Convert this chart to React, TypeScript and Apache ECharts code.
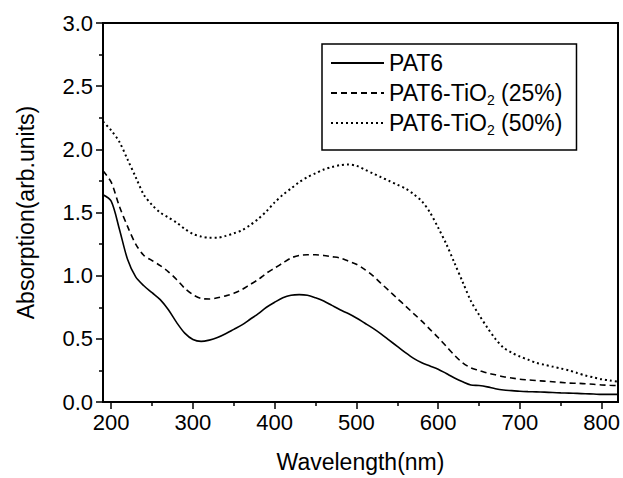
import React, { useEffect, useRef } from "react";
import * as echarts from "echarts";

const wavelengths = [
  190, 200, 210, 220, 230, 240, 250, 260, 270, 280, 290, 300, 310, 320, 330, 340,
  350, 360, 370, 380, 390, 400, 410, 420, 430, 440, 450, 460, 470, 480, 490, 500,
  510, 520, 530, 540, 550, 560, 570, 580, 590, 600, 610, 620, 630, 640, 650, 660,
  670, 680, 690, 700, 710, 720, 730, 740, 750, 760, 770, 780, 790, 800, 810, 820,
];

const pat6 = [
  1.64, 1.59, 1.37, 1.13, 0.99, 0.92, 0.865, 0.81, 0.73, 0.63, 0.545, 0.495, 0.48, 0.49, 0.51, 0.54,
  0.575, 0.61, 0.655, 0.7, 0.75, 0.79, 0.825, 0.845, 0.85, 0.845, 0.825, 0.8, 0.765, 0.73, 0.7, 0.665,
  0.625, 0.585, 0.54, 0.49, 0.44, 0.39, 0.345, 0.31, 0.285, 0.26, 0.225, 0.19, 0.16, 0.135, 0.13, 0.12,
  0.105, 0.095, 0.09, 0.085, 0.082, 0.08, 0.078, 0.075, 0.072, 0.07, 0.068, 0.065, 0.063, 0.06, 0.06, 0.06,
];

const pat6TiO2_25 = [
  1.83, 1.74, 1.55, 1.39, 1.25, 1.16, 1.12, 1.08, 1.03, 0.97, 0.9, 0.85, 0.82, 0.815, 0.825, 0.84,
  0.86, 0.89, 0.93, 0.97, 1.02, 1.06, 1.1, 1.14, 1.16, 1.165, 1.165, 1.16, 1.15, 1.14, 1.115, 1.09,
  1.05, 1.0, 0.94, 0.88, 0.82, 0.76, 0.7, 0.64, 0.575, 0.51, 0.44, 0.37, 0.31, 0.27, 0.25, 0.23,
  0.215, 0.2, 0.19, 0.18, 0.175, 0.17, 0.165, 0.16, 0.155, 0.15, 0.148, 0.145, 0.14, 0.135, 0.132, 0.13,
];

const pat6TiO2_50 = [
  2.22, 2.15, 2.06, 1.92, 1.78, 1.64, 1.56, 1.5, 1.46, 1.42, 1.37, 1.33, 1.31, 1.3, 1.3, 1.315,
  1.335, 1.36, 1.4, 1.45, 1.51, 1.58, 1.64, 1.69, 1.74, 1.78, 1.81, 1.84, 1.86, 1.875, 1.88, 1.87,
  1.84, 1.81, 1.78, 1.75, 1.72, 1.69, 1.645, 1.59, 1.5, 1.38, 1.25, 1.1, 0.95, 0.8, 0.69, 0.59,
  0.5, 0.43, 0.39, 0.36, 0.335, 0.31, 0.295, 0.28, 0.265, 0.25, 0.23, 0.21, 0.195, 0.18, 0.17, 0.16,
];

const seriesNames = ["PAT6", "PAT6-TiO2 (25%)", "PAT6-TiO2 (50%)"];
const xMajorTicks = [200, 300, 400, 500, 600, 700, 800];
const xMinorTicks = [250, 350, 450, 550, 650, 750];

const FONT = "'Liberation Sans', Arial, Helvetica, sans-serif";

export default function App() {
  const ref = useRef<HTMLDivElement>(null);

  useEffect(() => {
    if (!ref.current) return;
    const chart = echarts.init(ref.current, null, { renderer: "svg" });
    const toPairs = (vals: number[]) => wavelengths.map((w, i) => [w, vals[i]]);
    const lineTypes: any[] = ["solid", [6, 4], [2, 3]];
    const allVals = [pat6, pat6TiO2_25, pat6TiO2_50];

    chart.setOption({
      animation: false,
      backgroundColor: "#fff",
      grid: {
        left: 103,
        right: 4,
        top: 23,
        bottom: 75,
        show: true,
        borderColor: "#000",
        borderWidth: 2,
        containLabel: false,
      },
      legend: {
        data: seriesNames,
        orient: "vertical",
        left: 322,
        top: 44,
        padding: [5, 14, 13, 8],
        itemGap: 2,
        itemWidth: 53,
        itemHeight: 14,
        borderColor: "#000",
        borderWidth: 1.5,
        selectedMode: false,
        itemStyle: { opacity: 0 },
        formatter: (name: string) => name.replace("TiO2", "TiO{sub|2}"),
        textStyle: {
          fontSize: 23,
          fontFamily: FONT,
          color: "#000",
          lineHeight: 28,
          rich: {
            sub: { fontSize: 14, fontFamily: FONT, color: "#000", verticalAlign: "bottom", lineHeight: 14 },
          },
        },
      },
      xAxis: [
        {
          type: "value",
          min: 190,
          max: 820,
          position: "bottom",
          name: "Wavelength(nm)",
          nameLocation: "middle",
          nameGap: 48,
          nameTextStyle: { fontSize: 23, fontFamily: FONT, color: "#000" },
          axisLine: { show: true, lineStyle: { color: "#000", width: 2 } },
          axisTick: { show: true, customValues: xMajorTicks, length: 7, lineStyle: { color: "#000", width: 1.5 } },
          axisLabel: {
            customValues: xMajorTicks,
            fontSize: 22,
            fontFamily: FONT,
            color: "#000",
            margin: 9,
          },
          splitLine: { show: false },
        },
        {
          type: "value",
          min: 190,
          max: 820,
          position: "bottom",
          axisLine: { show: false },
          axisTick: { show: true, customValues: xMinorTicks, length: 4, lineStyle: { color: "#000", width: 1.5 } },
          axisLabel: { show: false },
          splitLine: { show: false },
        },
      ],
      yAxis: {
        type: "value",
        min: 0,
        max: 3,
        interval: 0.5,
        name: "Absorption(arb.units)",
        nameLocation: "middle",
        nameGap: 66,
        nameTextStyle: { fontSize: 23, fontFamily: FONT, color: "#000" },
        axisLine: { show: true, lineStyle: { color: "#000", width: 2 } },
        axisTick: { show: true, length: 7, lineStyle: { color: "#000", width: 1.5 } },
        minorTick: { show: true, splitNumber: 2, length: 4, lineStyle: { color: "#000", width: 1.5 } },
        axisLabel: {
          fontSize: 22,
          fontFamily: FONT,
          color: "#000",
          margin: 10,
          formatter: (v: number) => v.toFixed(1),
        },
        splitLine: { show: false },
      },
      series: seriesNames.map((name, i) => ({
        name,
        type: "line",
        xAxisIndex: 0,
        data: toPairs(allVals[i]),
        symbol: "none",
        smooth: 0.3,
        lineStyle: { color: "#000", width: i === 2 ? 2 : 1.6, type: lineTypes[i] },
        itemStyle: { color: "#000" },
      })),
    });

    return () => chart.dispose();
  }, []);

  return (
    <div
      ref={ref}
      style={{ position: "fixed", left: 0, top: 0, width: 623, height: 478, background: "#fff" }}
    />
  );
}
